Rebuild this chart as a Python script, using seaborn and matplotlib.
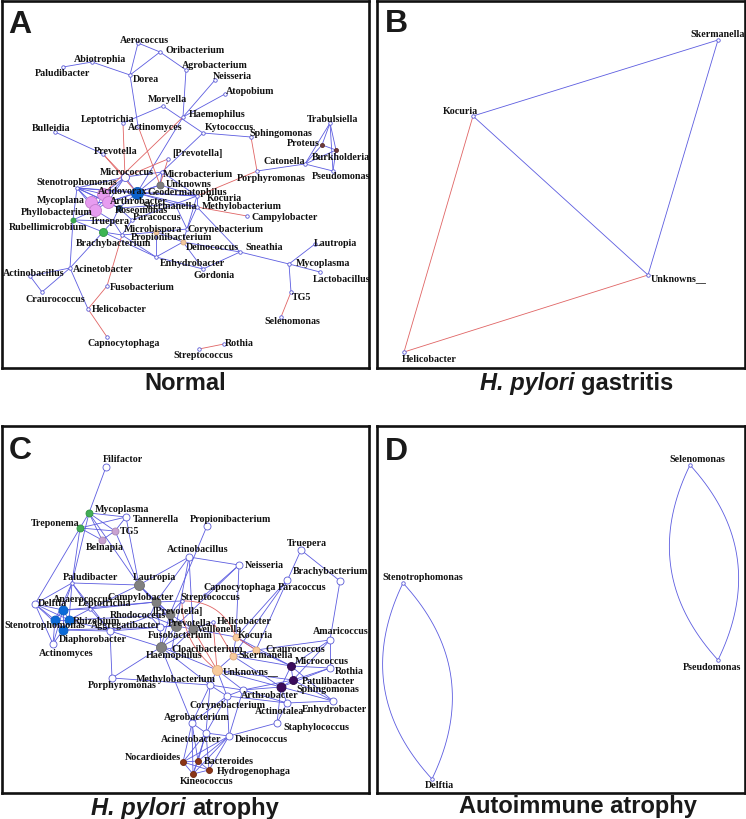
import numpy as np
import pandas as pd
import matplotlib
matplotlib.use("Agg")
import matplotlib.pyplot as plt
import seaborn as sns
from matplotlib.collections import LineCollection

# ---------------- panel A : Normal ----------------
a_pos = {
    "Aerococcus": (138, 44), "Oribacterium": (160, 53), "Abiotrophia": (92, 63),
    "Paludibacter": (63, 68), "Dorea": (130, 76), "Agrobacterium": (186, 71),
    "Neisseria": (215, 81), "Atopobium": (225, 95), "Moryella": (163, 107),
    "Haemophilus": (183, 118), "Leptotrichia": (123, 124), "Actinomyces": (138, 127),
    "Bulleidia": (55, 133), "Kytococcus": (203, 134), "Sphingomonas": (251, 138),
    "Trabulsiella": (330, 124), "Proteus": (322, 146), "Burkholderia": (336, 151),
    "Catonella": (305, 165), "Pseudomonas": (333, 172), "Prevotella": (103, 155),
    "[Prevotella]": (168, 160), "Micrococcus": (125, 178), "Microbacterium": (162, 173),
    "Porphyromonas": (257, 172), "Unknowns": (160, 186), "Stenotrophomonas": (77, 189),
    "Acidovorax": (103, 195), "Geodermatophilus": (137, 194), "Kocuria": (197, 197),
    "Mycoplana": (91, 203), "Arthrobacter": (108, 203), "Skermanella": (175, 205),
    "Methylobacterium": (197, 208), "Roseomonas": (119, 209), "Phyllobacterium": (95, 211),
    "Campylobacter": (247, 217), "Paracoccus": (132, 221), "Rubellimicrobium": (73, 221),
    "Truepera": (113, 222), "Microbispora": (122, 236), "Corynebacterium": (187, 230),
    "Brachybacterium": (103, 233), "Propionibacterium": (156, 233), "Deinococcus": (183, 243),
    "Sneathia": (240, 253), "Lautropia": (315, 245), "Enhydrobacter": (156, 258),
    "Mycoplasma": (289, 265), "Gordonia": (203, 270), "Acinetobacter": (70, 269),
    "Actinobacillus": (30, 277), "Lactobacillus": (320, 273), "Craurococcus": (42, 293),
    "Fusobacterium": (107, 287), "TG5": (291, 293), "Helicobacter": (88, 310),
    "Selenomonas": (281, 318), "Capnocytophaga": (107, 338), "Rothia": (224, 345),
    "Streptococcus": (199, 350),
}
a_lab = {
    "Aerococcus": (120, 40), "Oribacterium": (165, 50), "Abiotrophia": (74, 59),
    "Paludibacter": (35, 73), "Dorea": (133, 79), "Agrobacterium": (182, 65),
    "Neisseria": (213, 76), "Atopobium": (226, 91), "Moryella": (148, 99),
    "Haemophilus": (189, 114), "Leptotrichia": (81, 119), "Actinomyces": (128, 127),
    "Bulleidia": (32, 128), "Kytococcus": (205, 127), "Sphingomonas": (249, 133),
    "Trabulsiella": (307, 119), "Proteus": (287, 143), "Burkholderia": (312, 157),
    "Catonella": (263, 161), "Pseudomonas": (312, 176), "Prevotella": (94, 151),
    "[Prevotella]": (172, 153), "Micrococcus": (100, 172), "Microbacterium": (163, 174),
    "Porphyromonas": (237, 178), "Unknowns": (166, 184), "Stenotrophomonas": (36, 182),
    "Acidovorax": (98, 191), "Geodermatophilus": (147, 192), "Kocuria": (207, 198),
    "Mycoplana": (37, 200), "Arthrobacter": (110, 201), "Skermanella": (142, 206),
    "Methylobacterium": (202, 206), "Roseomonas": (115, 210), "Phyllobacterium": (21, 212),
    "Campylobacter": (251, 217), "Paracoccus": (133, 217), "Rubellimicrobium": (9, 227),
    "Truepera": (90, 222), "Microbispora": (124, 229), "Corynebacterium": (188, 229),
    "Brachybacterium": (76, 243), "Propionibacterium": (131, 237), "Deinococcus": (186, 248),
    "Sneathia": (245, 247), "Lautropia": (314, 243), "Enhydrobacter": (160, 263),
    "Mycoplasma": (296, 263), "Gordonia": (193, 276), "Acinetobacter": (73, 270),
    "Actinobacillus": (3, 273), "Lactobacillus": (313, 279), "Craurococcus": (26, 299),
    "Fusobacterium": (110, 288), "TG5": (292, 297), "Helicobacter": (92, 310),
    "Selenomonas": (264, 322), "Capnocytophaga": (87, 343), "Rothia": (225, 343),
    "Streptococcus": (173, 356),
}
a_grp = {
    "Acidovorax": "pink", "Mycoplana": "pink", "Arthrobacter": "pink",
    "Phyllobacterium": "pink", "Geodermatophilus": "blueL", "Unknowns": "grayS",
    "Micrococcus": "whiteM", "Roseomonas": "navy", "Rubellimicrobium": "greenS",
    "Brachybacterium": "green", "Propionibacterium": "tanS", "Deinococcus": "tanS",
    "Proteus": "brownS", "Burkholderia": "brownS",
}
a_pos_edges = [
    ("Paludibacter", "Abiotrophia"), ("Abiotrophia", "Dorea"), ("Aerococcus", "Dorea"),
    ("Aerococcus", "Oribacterium"), ("Dorea", "Oribacterium"), ("Oribacterium", "Agrobacterium"),
    ("Agrobacterium", "Haemophilus"), ("Haemophilus", "Neisseria"), ("Haemophilus", "Atopobium"),
    ("Moryella", "Leptotrichia"), ("Moryella", "Kytococcus"), ("Kytococcus", "Sphingomonas"),
    ("Kytococcus", "Microbacterium"), ("Haemophilus", "Geodermatophilus"), ("Dorea", "Actinomyces"),
    ("Bulleidia", "Prevotella"), ("Trabulsiella", "Catonella"), ("Trabulsiella", "Proteus"),
    ("Trabulsiella", "Burkholderia"), ("Trabulsiella", "Pseudomonas"), ("Proteus", "Burkholderia"),
    ("Proteus", "Catonella"), ("Burkholderia", "Pseudomonas"), ("Catonella", "Pseudomonas"),
    ("Catonella", "Burkholderia"), ("Catonella", "Porphyromonas"),
    ("Micrococcus", "Stenotrophomonas"), ("Micrococcus", "Acidovorax"), ("Micrococcus", "Geodermatophilus"),
    ("Micrococcus", "Microbacterium"), ("Microbacterium", "Geodermatophilus"), ("Microbacterium", "Unknowns"),
    ("Unknowns", "Geodermatophilus"), ("Stenotrophomonas", "Acidovorax"), ("Stenotrophomonas", "Mycoplana"),
    ("Stenotrophomonas", "Arthrobacter"), ("Stenotrophomonas", "Geodermatophilus"),
    ("Stenotrophomonas", "Phyllobacterium"), ("Acidovorax", "Mycoplana"), ("Acidovorax", "Arthrobacter"),
    ("Acidovorax", "Phyllobacterium"), ("Mycoplana", "Arthrobacter"), ("Mycoplana", "Phyllobacterium"),
    ("Arthrobacter", "Phyllobacterium"), ("Arthrobacter", "Roseomonas"), ("Geodermatophilus", "Kocuria"),
    ("Geodermatophilus", "Skermanella"), ("Geodermatophilus", "Methylobacterium"),
    ("Geodermatophilus", "Roseomonas"), ("Geodermatophilus", "Arthrobacter"), ("Kocuria", "Skermanella"),
    ("Kocuria", "Methylobacterium"), ("Kocuria", "Unknowns"), ("Skermanella", "Methylobacterium"),
    ("Skermanella", "Roseomonas"), ("Skermanella", "Paracoccus"), ("Skermanella", "Corynebacterium"),
    ("Roseomonas", "Paracoccus"), ("Roseomonas", "Truepera"), ("Phyllobacterium", "Rubellimicrobium"),
    ("Phyllobacterium", "Truepera"), ("Rubellimicrobium", "Truepera"), ("Rubellimicrobium", "Brachybacterium"),
    ("Rubellimicrobium", "Stenotrophomonas"), ("Truepera", "Brachybacterium"),
    ("Brachybacterium", "Microbispora"), ("Truepera", "Microbispora"), ("Microbispora", "Propionibacterium"),
    ("Microbispora", "Paracoccus"), ("Propionibacterium", "Corynebacterium"),
    ("Propionibacterium", "Deinococcus"), ("Propionibacterium", "Enhydrobacter"),
    ("Corynebacterium", "Deinococcus"), ("Corynebacterium", "Kocuria"), ("Corynebacterium", "Methylobacterium"),
    ("Deinococcus", "Enhydrobacter"), ("Deinococcus", "Gordonia"), ("Deinococcus", "Sneathia"),
    ("Enhydrobacter", "Microbispora"), ("Enhydrobacter", "Gordonia"), ("Enhydrobacter", "Brachybacterium"),
    ("Methylobacterium", "Sneathia"), ("Sneathia", "Mycoplasma"), ("Mycoplasma", "Lautropia"),
    ("Mycoplasma", "Lactobacillus"), ("Mycoplasma", "TG5"), ("Brachybacterium", "Acinetobacter"),
    ("Acinetobacter", "Actinobacillus"), ("Acinetobacter", "Craurococcus"),
    ("Actinobacillus", "Craurococcus"), ("Acinetobacter", "Helicobacter"),
    ("Acinetobacter", "Rubellimicrobium"), ("Micrococcus", "Arthrobacter"), ("Unknowns", "Arthrobacter"),
    ("Microbacterium", "Kocuria"), ("Stenotrophomonas", "Roseomonas"), ("Micrococcus", "Phyllobacterium"),
    ("Gordonia", "Sneathia"), ("Stenotrophomonas", "Kocuria"),
]
a_neg_edges = [
    ("Leptotrichia", "Micrococcus"), ("Prevotella", "Micrococcus"), ("Prevotella", "Geodermatophilus"),
    ("Actinomyces", "Unknowns"), ("Haemophilus", "Acidovorax"), ("[Prevotella]", "Unknowns"),
    ("[Prevotella]", "Micrococcus"), ("Sphingomonas", "Porphyromonas"), ("Porphyromonas", "Kocuria"),
    ("Methylobacterium", "Campylobacter"), ("Fusobacterium", "Microbispora"),
    ("Fusobacterium", "Helicobacter"), ("Helicobacter", "Capnocytophaga"),
    ("Rothia", "Streptococcus"), ("TG5", "Selenomonas"),
]

# ---------------- panel B : H. pylori gastritis ----------------
b_pos = {"Skermanella": (718, 41), "Kocuria": (473, 117),
         "Unknowns__": (648, 276), "Helicobacter": (404, 353)}
b_lab = {"Skermanella": (690, 34), "Kocuria": (443, 111),
         "Unknowns__": (651, 279), "Helicobacter": (402, 360)}
b_pos_edges = [("Kocuria", "Skermanella"), ("Kocuria", "Unknowns__"), ("Skermanella", "Unknowns__")]
b_neg_edges = [("Kocuria", "Helicobacter"), ("Helicobacter", "Unknowns__")]

# ---------------- panel C : H. pylori atrophy ----------------
c_pos = {
    "Filifactor": (106, 468), "Mycoplasma": (89, 514), "Tannerella": (126, 518),
    "Propionibacterium": (207, 527), "Treponema": (80, 529), "TG5": (115, 532),
    "Belnapia": (102, 541), "Actinobacillus": (189, 558), "Truepera": (301, 551),
    "Neisseria": (239, 566), "Brachybacterium": (340, 582), "Paludibacter": (72, 584),
    "Lautropia": (139, 586), "Paracoccus": (287, 581), "Capnocytophaga": (205, 596),
    "Anaerococcus": (63, 611), "Campylobacter": (156, 603), "Streptococcus": (182, 602),
    "Delftia": (35, 605), "Leptotrichia": (90, 610), "Stenotrophomonas": (55, 621),
    "Rhizobium": (69, 621), "Diaphorobacter": (63, 631), "[Prevotella]": (170, 615),
    "Rhodococcus": (150, 617), "Aggregatibacter": (110, 632), "Prevotella": (176, 627),
    "Helicobacter": (213, 623), "Veillonella": (193, 630), "Fusobacterium": (160, 628),
    "Kocuria": (236, 638), "Amaricoccus": (330, 641), "Actinomyces": (53, 645),
    "Haemophilus": (161, 648), "Cloacibacterium": (172, 650), "Craurococcus": (256, 651),
    "Skermanella": (233, 657), "Micrococcus": (291, 667), "Rothia": (330, 669),
    "Unknowns__": (217, 671), "Methylobacterium": (210, 686), "Patulibacter": (293, 681),
    "Porphyromonas": (112, 679), "Sphingomonas": (281, 688), "Arthrobacter": (243, 691),
    "Enhydrobacter": (333, 702), "Corynebacterium": (227, 697), "Actinotalea": (287, 704),
    "Agrobacterium": (192, 724), "Staphylococcus": (277, 724), "Acinetobacter": (206, 734),
    "Deinococcus": (229, 737), "Nocardioides": (183, 763), "Bacteroides": (198, 762),
    "Hydrogenophaga": (209, 771), "Kineococcus": (193, 775),
}
c_lab = {
    "Filifactor": (103, 460), "Mycoplasma": (95, 509), "Tannerella": (133, 519),
    "Propionibacterium": (190, 519), "Treponema": (31, 523), "TG5": (120, 532),
    "Belnapia": (86, 548), "Actinobacillus": (167, 550), "Truepera": (287, 543),
    "Neisseria": (245, 565), "Brachybacterium": (293, 572), "Paludibacter": (63, 577),
    "Lautropia": (133, 577), "Paracoccus": (278, 588), "Capnocytophaga": (203, 588),
    "Anaerococcus": (53, 599), "Campylobacter": (107, 597), "Streptococcus": (180, 597),
    "Delftia": (38, 603), "Leptotrichia": (78, 603), "Stenotrophomonas": (4, 625),
    "Rhizobium": (73, 621), "Diaphorobacter": (59, 640), "[Prevotella]": (152, 611),
    "Rhodococcus": (110, 616), "Aggregatibacter": (91, 626), "Prevotella": (168, 623),
    "Helicobacter": (217, 621), "Veillonella": (197, 629), "Fusobacterium": (148, 635),
    "Kocuria": (238, 636), "Amaricoccus": (313, 631), "Actinomyces": (39, 653),
    "Haemophilus": (146, 656), "Cloacibacterium": (171, 649), "Craurococcus": (265, 650),
    "Skermanella": (238, 656), "Micrococcus": (295, 662), "Rothia": (335, 672),
    "Unknowns__": (223, 672), "Methylobacterium": (136, 679), "Patulibacter": (302, 681),
    "Porphyromonas": (88, 686), "Sphingomonas": (296, 689), "Arthrobacter": (241, 696),
    "Enhydrobacter": (302, 709), "Corynebacterium": (189, 706), "Actinotalea": (255, 712),
    "Agrobacterium": (164, 717), "Staphylococcus": (283, 727), "Acinetobacter": (161, 739),
    "Deinococcus": (235, 739), "Nocardioides": (125, 757), "Bacteroides": (204, 761),
    "Hydrogenophaga": (217, 771), "Kineococcus": (180, 782),
}
c_grp = {
    "Mycoplasma": "greenM", "Treponema": "greenM", "TG5": "lilac", "Belnapia": "lilac",
    "Paludibacter": "dot", "Capnocytophaga": "dot", "Streptococcus": "dot",
    "Leptotrichia": "dot", "Rhodococcus": "dot", "Helicobacter": "dot", "Cloacibacterium": "dot",
    "Anaerococcus": "blue", "Stenotrophomonas": "blue", "Rhizobium": "blue", "Diaphorobacter": "blue",
    "Lautropia": "grayL", "Campylobacter": "gray", "[Prevotella]": "gray", "Prevotella": "grayL",
    "Veillonella": "gray", "Haemophilus": "grayL",
    "Kocuria": "tan", "Craurococcus": "tan", "Skermanella": "tan", "Unknowns__": "tanL",
    "Micrococcus": "purple", "Patulibacter": "purple", "Sphingomonas": "purpleL",
    "Nocardioides": "brown", "Bacteroides": "brown", "Hydrogenophaga": "brown", "Kineococcus": "brown",
}
c_pos_edges = [
    ("Filifactor", "Mycoplasma"), ("Mycoplasma", "Treponema"), ("Mycoplasma", "Tannerella"),
    ("Mycoplasma", "TG5"), ("Mycoplasma", "Belnapia"), ("Mycoplasma", "Lautropia"),
    ("Mycoplasma", "Paludibacter"), ("Treponema", "Tannerella"), ("Treponema", "TG5"),
    ("Treponema", "Belnapia"), ("Treponema", "Paludibacter"), ("Treponema", "Delftia"),
    ("TG5", "Belnapia"), ("Tannerella", "TG5"), ("Tannerella", "Lautropia"), ("TG5", "Lautropia"),
    ("Propionibacterium", "[Prevotella]"), ("Actinobacillus", "Lautropia"), ("Actinobacillus", "Neisseria"),
    ("Actinobacillus", "Campylobacter"), ("Actinobacillus", "Veillonella"), ("Actinobacillus", "Prevotella"),
    ("Neisseria", "Prevotella"), ("Neisseria", "Capnocytophaga"), ("Neisseria", "Kocuria"),
    ("Truepera", "Brachybacterium"), ("Truepera", "Craurococcus"), ("Brachybacterium", "Amaricoccus"),
    ("Paracoccus", "Skermanella"), ("Paludibacter", "Lautropia"), ("Paludibacter", "Delftia"),
    ("Paludibacter", "Anaerococcus"), ("Paludibacter", "Stenotrophomonas"), ("Paludibacter", "Rhizobium"),
    ("Paludibacter", "Aggregatibacter"), ("Paludibacter", "Leptotrichia"), ("Delftia", "Anaerococcus"),
    ("Delftia", "Stenotrophomonas"), ("Delftia", "Rhizobium"), ("Delftia", "Diaphorobacter"),
    ("Delftia", "Actinomyces"), ("Anaerococcus", "Stenotrophomonas"), ("Anaerococcus", "Rhizobium"),
    ("Anaerococcus", "Diaphorobacter"), ("Stenotrophomonas", "Rhizobium"),
    ("Stenotrophomonas", "Diaphorobacter"), ("Rhizobium", "Diaphorobacter"),
    ("Actinomyces", "Stenotrophomonas"), ("Actinomyces", "Diaphorobacter"), ("Actinomyces", "Anaerococcus"),
    ("Leptotrichia", "Rhizobium"), ("Leptotrichia", "Anaerococcus"), ("Leptotrichia", "Campylobacter"),
    ("Leptotrichia", "Aggregatibacter"), ("Rhizobium", "Aggregatibacter"), ("Diaphorobacter", "Aggregatibacter"),
    ("Diaphorobacter", "Fusobacterium"), ("Rhizobium", "Rhodococcus"), ("Anaerococcus", "Campylobacter"),
    ("Aggregatibacter", "Porphyromonas"), ("Aggregatibacter", "Rhodococcus"), ("Aggregatibacter", "Haemophilus"),
    ("Aggregatibacter", "Prevotella"), ("Lautropia", "Campylobacter"), ("Lautropia", "[Prevotella]"),
    ("Lautropia", "Prevotella"), ("Lautropia", "Leptotrichia"), ("Campylobacter", "[Prevotella]"),
    ("Campylobacter", "Prevotella"), ("Campylobacter", "Rhodococcus"), ("Campylobacter", "Streptococcus"),
    ("Campylobacter", "Fusobacterium"), ("[Prevotella]", "Prevotella"), ("[Prevotella]", "Veillonella"),
    ("[Prevotella]", "Streptococcus"), ("[Prevotella]", "Rhodococcus"), ("[Prevotella]", "Haemophilus"),
    ("Prevotella", "Veillonella"), ("Prevotella", "Fusobacterium"), ("Prevotella", "Haemophilus"),
    ("Prevotella", "Cloacibacterium"), ("Prevotella", "Rhodococcus"), ("Veillonella", "Haemophilus"),
    ("Veillonella", "Cloacibacterium"), ("Veillonella", "Kocuria"), ("Veillonella", "Helicobacter"),
    ("Fusobacterium", "Haemophilus"), ("Fusobacterium", "Rhodococcus"), ("Haemophilus", "Cloacibacterium"),
    ("Haemophilus", "Methylobacterium"), ("Haemophilus", "Agrobacterium"), ("Haemophilus", "Porphyromonas"),
    ("Haemophilus", "Unknowns__"), ("Kocuria", "Craurococcus"), ("Kocuria", "Skermanella"),
    ("Kocuria", "Micrococcus"), ("Kocuria", "Paracoccus"), ("Craurococcus", "Skermanella"),
    ("Craurococcus", "Micrococcus"), ("Craurococcus", "Amaricoccus"), ("Skermanella", "Unknowns__"),
    ("Skermanella", "Sphingomonas"), ("Skermanella", "Micrococcus"), ("Unknowns__", "Methylobacterium"),
    ("Unknowns__", "Arthrobacter"), ("Unknowns__", "Corynebacterium"), ("Unknowns__", "Sphingomonas"),
    ("Unknowns__", "Patulibacter"), ("Micrococcus", "Patulibacter"), ("Micrococcus", "Sphingomonas"),
    ("Micrococcus", "Rothia"), ("Micrococcus", "Amaricoccus"), ("Micrococcus", "Enhydrobacter"),
    ("Patulibacter", "Sphingomonas"), ("Patulibacter", "Rothia"), ("Patulibacter", "Amaricoccus"),
    ("Patulibacter", "Enhydrobacter"), ("Patulibacter", "Arthrobacter"), ("Sphingomonas", "Arthrobacter"),
    ("Sphingomonas", "Actinotalea"), ("Sphingomonas", "Enhydrobacter"), ("Sphingomonas", "Staphylococcus"),
    ("Sphingomonas", "Rothia"), ("Amaricoccus", "Rothia"), ("Arthrobacter", "Actinotalea"),
    ("Arthrobacter", "Corynebacterium"), ("Arthrobacter", "Methylobacterium"), ("Arthrobacter", "Deinococcus"),
    ("Actinotalea", "Staphylococcus"), ("Actinotalea", "Enhydrobacter"), ("Actinotalea", "Corynebacterium"),
    ("Staphylococcus", "Deinococcus"), ("Methylobacterium", "Corynebacterium"),
    ("Methylobacterium", "Agrobacterium"), ("Methylobacterium", "Acinetobacter"),
    ("Corynebacterium", "Agrobacterium"), ("Corynebacterium", "Acinetobacter"),
    ("Corynebacterium", "Deinococcus"), ("Agrobacterium", "Acinetobacter"), ("Agrobacterium", "Nocardioides"),
    ("Agrobacterium", "Kineococcus"), ("Agrobacterium", "Bacteroides"), ("Acinetobacter", "Deinococcus"),
    ("Acinetobacter", "Nocardioides"), ("Acinetobacter", "Bacteroides"), ("Acinetobacter", "Hydrogenophaga"),
    ("Acinetobacter", "Kineococcus"), ("Deinococcus", "Nocardioides"), ("Deinococcus", "Bacteroides"),
    ("Deinococcus", "Hydrogenophaga"), ("Deinococcus", "Kineococcus"), ("Nocardioides", "Bacteroides"),
    ("Nocardioides", "Hydrogenophaga"), ("Nocardioides", "Kineococcus"), ("Bacteroides", "Hydrogenophaga"),
    ("Bacteroides", "Kineococcus"), ("Hydrogenophaga", "Kineococcus"), ("Porphyromonas", "Methylobacterium"),
]
c_neg_edges = [
    ("Streptococcus", "Kocuria"), ("Streptococcus", "Unknowns__"), ("Helicobacter", "Unknowns__"),
    ("Veillonella", "Unknowns__"), ("Kocuria", "Craurococcus"), ("Helicobacter", "Skermanella"),
]
c_bend = {("Streptococcus", "Kocuria"): -0.35, ("Streptococcus", "Unknowns__"): 0.25}

# ---------------- panel D : Autoimmune atrophy ----------------
d_pos = {"Selenomonas": (690, 466), "Pseudomonas": (718, 661),
         "Stenotrophomonas": (403, 584), "Delftia": (432, 780)}
d_lab = {"Selenomonas": (669, 459), "Pseudomonas": (683, 667),
         "Stenotrophomonas": (382, 578), "Delftia": (425, 786)}
d_pos_edges = [("Selenomonas", "Pseudomonas"), ("Pseudomonas", "Selenomonas"),
               ("Stenotrophomonas", "Delftia"), ("Delftia", "Stenotrophomonas")]
d_bend = {("Selenomonas", "Pseudomonas"): 0.34, ("Pseudomonas", "Selenomonas"): 0.34,
          ("Stenotrophomonas", "Delftia"): 0.34, ("Delftia", "Stenotrophomonas"): 0.34}

# node styles: fill, outline, diameter in px
STYLE = {
    "dot": ("white", "#5a5ad6", 3.5), "whiteM": ("white", "#5a5ad6", 8),
    "white": ("white", "#5a5ad6", 7),
    "pink": ("#e79cf0", "#c27ccc", 12), "blueL": ("#0b62cc", "#0a55b0", 12),
    "blue": ("#0b6ad8", "#0a5ec0", 9), "grayS": ("#7d7d7d", "#6a6a6a", 7),
    "gray": ("#808080", "#6d6d6d", 9), "grayL": ("#808080", "#6d6d6d", 10),
    "navy": ("#2c4a78", "#223c66", 6), "greenS": ("#3daa50", "#2f9442", 5),
    "green": ("#3db551", "#2f9442", 8), "greenM": ("#43ad57", "#2f9442", 7),
    "lilac": ("#c9a2d2", "#a888b0", 7), "tanS": ("#f3c9a0", "#d8ab80", 5),
    "tan": ("#f8ca9c", "#dcaa7c", 7), "tanL": ("#f8ca9c", "#dcaa7c", 10),
    "purple": ("#3b0b5c", "#2a0845", 8), "purpleL": ("#3b0b5c", "#2a0845", 9),
    "brown": ("#8b3416", "#6e2810", 6), "brownS": ("#6e3b3b", "#5a2e2e", 4),
}
POS_COL = "#5c5ce0"
NEG_COL = "#e06464"

W, H = 746, 820
sns.set_theme(style="white")
plt.rcParams["font.family"] = ["Liberation Sans", "DejaVu Sans"]
fig = plt.figure(figsize=(W / 100, H / 100), dpi=100)


def curve(p, q, bend, n=40):
    p, q = np.asarray(p, float), np.asarray(q, float)
    mid = (p + q) / 2
    d = q - p
    c = mid + bend * np.array([-d[1], d[0]])
    t = np.linspace(0, 1, n)[:, None]
    return (1 - t) ** 2 * p + 2 * (1 - t) * t * c + t ** 2 * q


def draw_panel(box, pos, lab, grp, pos_edges, neg_edges, bend, default="dot", fs=7.2):
    x0, y0, x1, y1 = box
    ax = fig.add_axes([x0 / W, 1 - y1 / H, (x1 - x0) / W, (y1 - y0) / H])
    ax.set_xlim(x0, x1)
    ax.set_ylim(y1, y0)
    for sp in ax.spines.values():
        sp.set_visible(True)
        sp.set_color("#111111")
        sp.set_linewidth(1.9)
    ax.set_xticks([])
    ax.set_yticks([])
    for edges, col in ((pos_edges, POS_COL), (neg_edges, NEG_COL)):
        segs = [curve(pos[u], pos[v], bend.get((u, v), 0.0)) for u, v in edges]
        ax.add_collection(LineCollection(segs, colors=col, linewidths=0.6, zorder=1))
    df = pd.DataFrame({"name": list(pos),
                       "x": [p[0] for p in pos.values()],
                       "y": [p[1] for p in pos.values()]})
    df["grp"] = [grp.get(n, default) for n in df["name"]]
    for g, sub in df.groupby("grp"):
        fill, edge, dia = STYLE[g]
        sns.scatterplot(data=sub, x="x", y="y", s=(dia * 0.72) ** 2, color=fill,
                        edgecolor=edge, linewidth=0.6, ax=ax, zorder=2, legend=False)
    for n, (lx, ly) in lab.items():
        ax.text(lx, ly, n, ha="left", va="center", fontsize=fs, fontweight="bold",
                family="Liberation Serif", color="#111111", zorder=3)
    ax.set_xlabel("")
    ax.set_ylabel("")
    return ax


draw_panel((2, 2, 369, 369), a_pos, a_lab, a_grp, a_pos_edges, a_neg_edges, {})
draw_panel((377, 2, 745, 369), b_pos, b_lab, {}, b_pos_edges, b_neg_edges, {})
draw_panel((2, 427, 369, 794), c_pos, c_lab, c_grp, c_pos_edges, c_neg_edges, c_bend, default="white")
draw_panel((377, 427, 745, 794), d_pos, d_lab, {}, d_pos_edges, [], d_bend)

# panel letters
for letter, (lx, ly) in {"A": (8, 33), "B": (385, 32), "C": (9, 459), "D": (385, 460)}.items():
    fig.text(lx / W, 1 - ly / H, letter, fontsize=23, fontweight="bold",
             ha="left", va="baseline", color="#1a1a1a")

# panel titles (italic genus part where needed)
renderer = fig.canvas.get_renderer()


def title(cx, base, italic, plain):
    parts = []
    if italic:
        parts.append(fig.text(0, 0, italic, fontsize=17, fontweight="bold", style="italic",
                              va="baseline", ha="left", color="#1a1a1a"))
    parts.append(fig.text(0, 0, plain, fontsize=17, fontweight="bold",
                          va="baseline", ha="left", color="#1a1a1a"))
    gap = 6.5
    widths = [t.get_window_extent(renderer).width for t in parts]
    total = sum(widths) + gap * (len(parts) - 1)
    x = cx - total / 2
    for t, w in zip(parts, widths):
        t.set_position((x / W, 1 - base / H))
        x += w + gap


title(185, 390, None, "Normal")
title(577, 390, "H. pylori", "gastritis")
title(185, 815, "H. pylori", "atrophy")
title(578, 813, None, "Autoimmune atrophy")

fig.savefig("out.png", dpi=100)
